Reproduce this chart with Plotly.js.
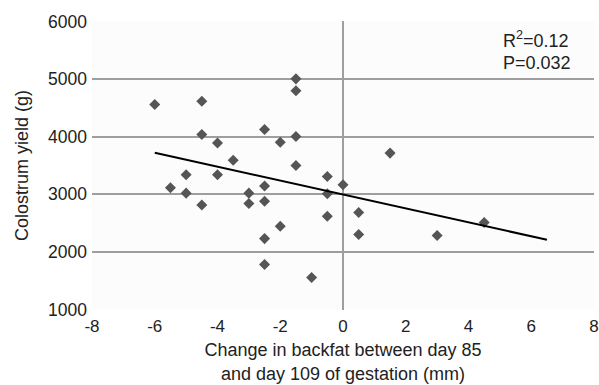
<!DOCTYPE html>
<html>
<head>
<meta charset="utf-8">
<script src="https://cdn.plot.ly/plotly-3.0.1.min.js"></script>
<style>html,body{margin:0;padding:0;background:#fff;}#chart{width:599px;height:385px;}</style>
</head>
<body>
<div id="chart"></div>
<script>
// Change in backfat (mm)
const backfatChange = [-6, -5.5, -5, -5, -4.5, -4.5, -4.5, -4, -4, -3.5, -3, -3,
  -2.5, -2.5, -2.5, -2.5, -2.5, -2, -2, -1.5, -1.5, -1.5, -1.5, -1,
  -0.5, -0.5, -0.5, 0, 0.5, 0.5, 1.5, 3, 4.5];
// Colostrum yield (g)
const colostrumYield = [4560, 3115, 3340, 3020, 4615, 4040, 2815, 3890, 3340, 3590, 3020, 2840,
  4125, 3145, 2880, 2230, 1780, 3905, 2445, 5005, 4800, 4005, 3500, 1555,
  3310, 3010, 2620, 3165, 2685, 2300, 3715, 2285, 2510];
// Fitted regression line endpoints
const trendX = [-6, 6.5];
const trendY = [3720, 2210];
const xTicks = [-8, -6, -4, -2, 0, 2, 4, 6, 8];
const yTicks = [1000, 2000, 3000, 4000, 5000, 6000];
const statLines = ["R<sup>2</sup>=0.12", "P=0.032"];

const FS = 18;
const TXT = '#222';
const traces = [
  {x: backfatChange, y: colostrumYield, type: 'scatter', mode: 'markers',
   marker: {symbol: 'diamond', size: 8.5, color: '#555555'}, hoverinfo: 'skip'},
  {x: trendX, y: trendY, type: 'scatter', mode: 'lines',
   line: {color: '#000', width: 2}, hoverinfo: 'skip'}
];
const layout = {
  width: 599, height: 385,
  margin: {l: 92, r: 5, t: 21, b: 75},
  paper_bgcolor: '#fff', plot_bgcolor: '#fcfcfc',
  showlegend: false,
  font: {family: 'Liberation Sans, Arial, sans-serif', size: FS, color: TXT},
  xaxis: {range: [-8, 8], tickvals: xTicks, ticktext: xTicks.map(String),
    showgrid: false, zeroline: true, zerolinecolor: '#9e9e9e', zerolinewidth: 2,
    showline: false, ticks: '', fixedrange: true, ticklabelstandoff: 4,
    tickfont: {size: 17, color: TXT},
    title: {text: 'Change in backfat between day 85<br>and day 109 of gestation (mm)',
      font: {size: FS, color: TXT}, standoff: 8}},
  yaxis: {range: [990, 6010], tickvals: yTicks, ticktext: yTicks.map(String),
    showgrid: true, gridcolor: '#9e9e9e', gridwidth: 2, zeroline: false,
    showline: false, ticks: '', fixedrange: true, ticklabelstandoff: 4,
    tickfont: {size: 17.5, color: TXT},
    title: {text: 'Colostrum yield (g)', font: {size: FS, color: TXT}, standoff: 14}},
  annotations: [
    {xref: 'paper', yref: 'paper', x: 0.814, y: 0.935, xanchor: 'left', yanchor: 'middle',
     text: statLines[0], showarrow: false, font: {size: FS, color: TXT}},
    {xref: 'paper', yref: 'paper', x: 0.814, y: 0.855, xanchor: 'left', yanchor: 'middle',
     text: statLines[1], showarrow: false, font: {size: FS, color: TXT}}
  ]
};
Plotly.newPlot('chart', traces, layout, {displayModeBar: false, staticPlot: true});
</script>
</body>
</html>
